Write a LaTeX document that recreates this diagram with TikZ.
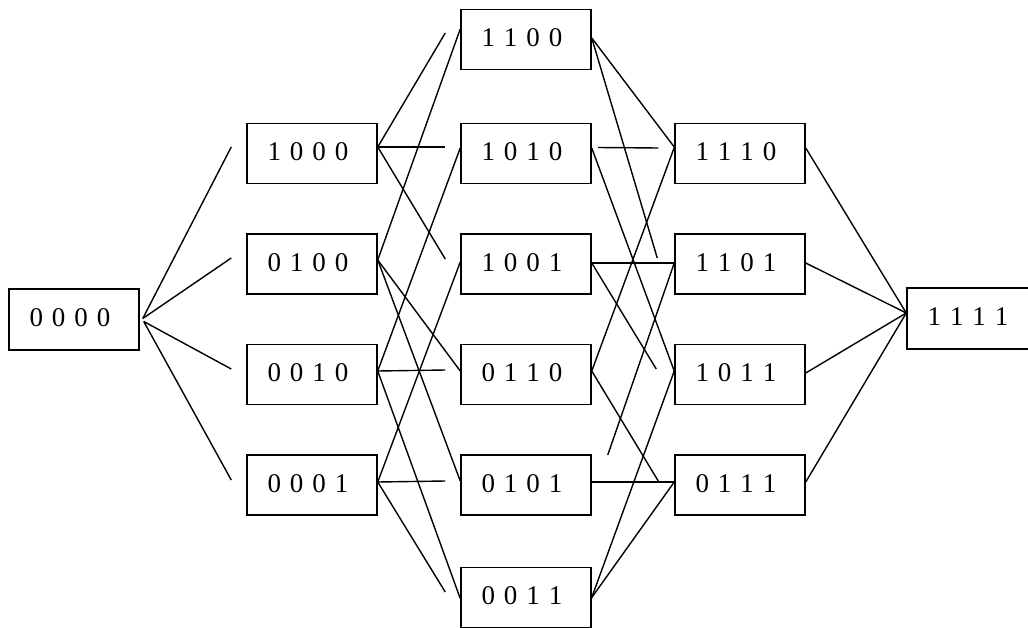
\documentclass[tikz,border=0pt]{standalone}
\usepackage{fontspec}
\setmainfont{Liberation Serif}
\begin{document}
\begin{tikzpicture}[x=1pt,y=-1pt,
  box/.style={draw, line width=1.5pt, minimum height=60pt, text width=89pt,
    inner xsep=20.5pt, inner ysep=0pt, align=left, text depth=3pt, font=\fontsize{27}{30}\selectfont},
  ln/.style={line width=1.4pt}]
\useasboundingbox (0,0) rectangle (1028,628);
% nodes
\node[box, minimum height=61pt] (n0000) at (74,319.5) {0 0 0 0};
\node[box] (n1000) at (312,153.5) {1 0 0 0};
\node[box] (n0100) at (312,264) {0 1 0 0};
\node[box] (n0010) at (312,374.5) {0 0 1 0};
\node[box] (n0001) at (312,485) {0 0 0 1};
\node[box] (n1100) at (526,39.5) {1 1 0 0};
\node[box] (n1010) at (526,153.5) {1 0 1 0};
\node[box] (n1001) at (526,264) {1 0 0 1};
\node[box] (n0110) at (526,374.5) {0 1 1 0};
\node[box] (n0101) at (526,485) {0 1 0 1};
\node[box] (n0011) at (526,597.5) {0 0 1 1};
\node[box] (n1110) at (740,153.5) {1 1 1 0};
\node[box] (n1101) at (740,264) {1 1 0 1};
\node[box] (n1011) at (740,374.5) {1 0 1 1};
\node[box] (n0111) at (740,485) {0 1 1 1};
\node[box, minimum height=61pt] (n1111) at (972,318.5) {1 1 1 1};
% 0000 -> column 1
\draw[ln] ([xshift=3pt,yshift=1pt]n0000.east) -- ([xshift=-15pt,yshift=6.5pt]n1000.west);
\draw[ln] ([xshift=3pt,yshift=1pt]n0000.east) -- ([xshift=-15pt,yshift=6pt]n0100.west);
\draw[ln] ([xshift=4pt,yshift=-2pt]n0000.east) -- ([xshift=-15pt,yshift=5.5pt]n0010.west);
\draw[ln] ([xshift=4pt,yshift=-2pt]n0000.east) -- ([xshift=-15pt,yshift=5pt]n0001.west);
% column 1 -> column 2
\draw[ln] ([yshift=6.5pt]n1000.east) -- ([xshift=-15pt,yshift=6.5pt]n1100.west);
\draw[ln] ([yshift=6.5pt]n1000.east) -- ([xshift=-15pt,yshift=6.5pt]n1010.west);
\draw[ln] ([yshift=6.5pt]n1000.east) -- ([xshift=-15pt,yshift=5pt]n1001.west);
\draw[ln] ([yshift=4pt]n0100.east) -- ([yshift=10.5pt]n1100.west);
\draw[ln] ([yshift=4pt]n0100.east) -- ([yshift=3.5pt]n0110.west);
\draw[ln] ([yshift=4pt]n0100.east) -- ([yshift=4pt]n0101.west);
\draw[ln] ([yshift=3.5pt]n0010.east) -- ([yshift=5.5pt]n1010.west);
\draw[ln] ([yshift=3.5pt]n0010.east) -- ([xshift=-15pt,yshift=4.5pt]n0110.west);
\draw[ln] ([yshift=3.5pt]n0010.east) -- ([yshift=-1pt]n0011.west);
\draw[ln] ([yshift=3pt]n0001.east) -- ([yshift=2pt]n1001.west);
\draw[ln] ([yshift=3pt]n0001.east) -- ([xshift=-15pt,yshift=4pt]n0101.west);
\draw[ln] ([yshift=3pt]n0001.east) -- ([xshift=-15pt,yshift=5.5pt]n0011.west);
% column 2 -> column 3
\draw[ln] ([yshift=1.5pt]n1100.east) -- ([yshift=6.5pt]n1110.west);
\draw[ln] ([yshift=1.5pt]n1100.east) -- ([xshift=-17pt,yshift=6pt]n1101.west);
\draw[ln] ([xshift=6pt,yshift=6pt]n1010.east) -- ([xshift=-16pt,yshift=5.5pt]n1110.west);
\draw[ln] ([yshift=5.5pt]n1010.east) -- ([yshift=3.5pt]n1011.west);
\draw[ln] ([yshift=1pt]n1001.east) -- ([yshift=1pt]n1101.west);
\draw[ln] ([yshift=1pt]n1001.east) -- ([xshift=-18pt,yshift=5.5pt]n1011.west);
\draw[ln] ([yshift=3.5pt]n0110.east) -- ([yshift=6pt]n1110.west);
\draw[ln] ([yshift=3.5pt]n0110.east) -- ([xshift=-16pt,yshift=4pt]n0111.west);
\draw[ln] ([xshift=16pt,yshift=30pt]n0101.east) -- ([yshift=1pt]n1101.west);
\draw[ln] ([yshift=3pt]n0101.east) -- ([yshift=3pt]n0111.west);
\draw[ln] (n0011.east) -- ([yshift=3.5pt]n1011.west);
\draw[ln] (n0011.east) -- ([yshift=3pt]n0111.west);
% column 3 -> 1111
\draw[ln] ([yshift=5.5pt]n1110.east) -- ([yshift=5.5pt]n1111.west);
\draw[ln] ([yshift=1pt]n1101.east) -- ([yshift=5.5pt]n1111.west);
\draw[ln] ([yshift=1.5pt]n1011.east) -- ([yshift=5.5pt]n1111.west);
\draw[ln] ([yshift=3pt]n0111.east) -- ([yshift=5.5pt]n1111.west);
\end{tikzpicture}
\end{document}
